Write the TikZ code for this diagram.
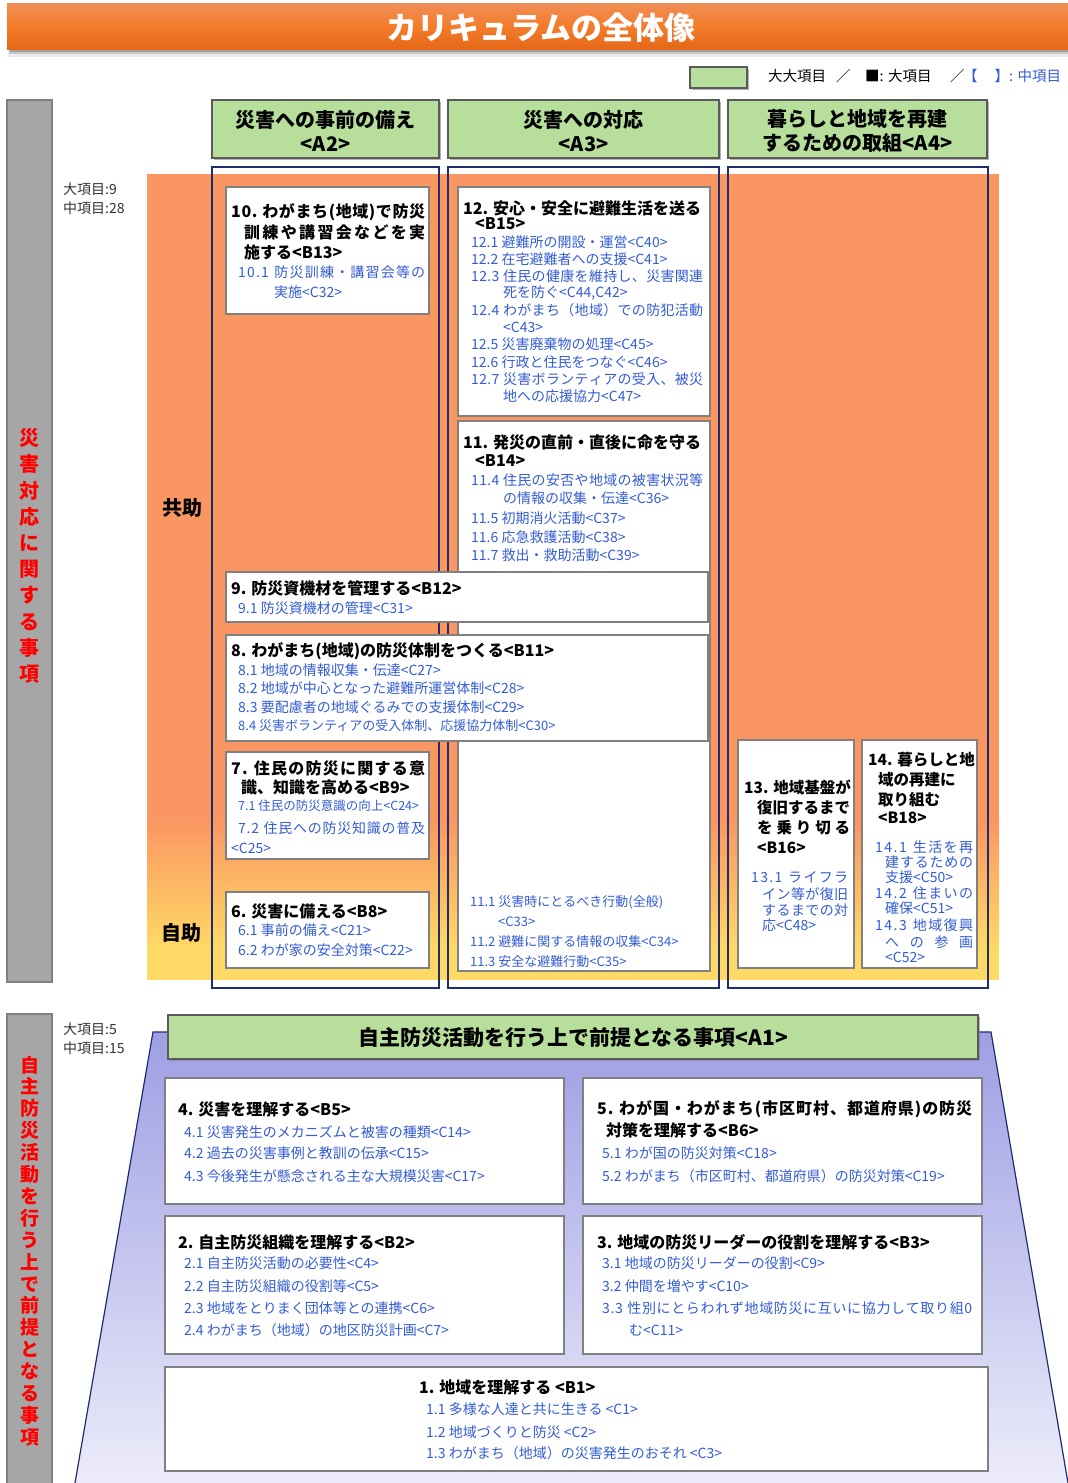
\documentclass[tikz,border=0pt]{standalone}
\usepackage{fontspec}
\setmainfont{Noto Sans CJK JP}
\usetikzlibrary{shadows}
\hbadness=10000
\definecolor{orangebg}{RGB}{250,150,98}
\definecolor{yellowbg}{RGB}{255,217,102}
\definecolor{itemblue}{RGB}{51,92,214}
\definecolor{navy}{RGB}{31,45,110}
\definecolor{boxgray}{RGB}{128,128,128}
\definecolor{hdrgreen}{RGB}{183,222,155}
\definecolor{hdrborder}{RGB}{90,90,90}
\definecolor{barGray}{RGB}{166,166,166}
\definecolor{titleTop}{RGB}{241,142,88}
\definecolor{titleMid}{RGB}{244,124,42}
\definecolor{titleBot}{RGB}{228,104,24}
\definecolor{purpTop}{RGB}{158,158,228}
\definecolor{purpBot}{RGB}{236,236,250}
\def\sprA#1{#1\sprB}
\def\sprB#1{\ifx#1\relax\else\hfil#1\expandafter\sprB\fi}
\newcommand\jus[2]{\makebox[#1pt][s]{\sprA#2\relax}}
\tikzset{
 ttl/.style={anchor=west,inner sep=0pt,font=\bfseries\fontsize{16}{18}\selectfont},
 ttls/.style={anchor=west,inner sep=0pt,font=\bfseries\fontsize{15.5}{18}\selectfont},
 itm/.style={anchor=west,inner sep=0pt,text=itemblue,font=\fontsize{14}{16}\selectfont},
 itmn/.style={itm,font=\fontsize{13}{15}\selectfont},
 wbox/.style={draw=boxgray,fill=white,line width=1.5pt},
 col/.style={draw=navy,line width=1.2pt},
 hdr/.style={draw=hdrborder,line width=2.5pt,fill=hdrgreen,drop shadow={shadow xshift=2pt,shadow yshift=-2pt,opacity=0.6}},
 hdrtxt/.style={align=center,inner sep=0pt,font=\bfseries\fontsize{20}{24}\selectfont},
 lbl/.style={anchor=west,inner sep=0pt,text=black!80,font=\fontsize{14}{16}\selectfont},
 legtxt/.style={anchor=west,inner sep=0pt,font=\fontsize{14.5}{16}\selectfont},
 vred/.style={align=center,inner sep=0pt,text=red,font=\bfseries\fontsize{20}{26.2}\selectfont},
 vredb/.style={align=center,inner sep=0pt,text=red,font=\bfseries\fontsize{19}{21.9}\selectfont},
 bar/.style={fill=barGray,draw=black!50,line width=1.5pt},
 big/.style={inner sep=0pt,font=\bfseries\fontsize{20}{22}\selectfont},
}
\begin{document}
\begin{tikzpicture}[x=1pt,y=-1pt]
\useasboundingbox (0,0) rectangle (1068,1483);
% title bar
\fill[black,opacity=0.08] (8,5) rectangle (1068,57);
\fill[black,opacity=0.15] (9,6) rectangle (1068,54);
\fill[black,opacity=0.2] (10,7) rectangle (1068,52);
\shade[top color=titleTop,bottom color=titleBot,middle color=titleMid] (7,3) rectangle (1068,49);
\node[inner sep=0pt,text=white,font=\bfseries\fontsize{31}{34}\selectfont] (title) at (541,28) {カリキュラムの全体像};
% legend
\draw[hdr,line width=2pt] (690,67) rectangle (747,88);
\node[legtxt] (leg1) at (768,76) {大大項目};
\node[legtxt] (leg2) at (836,76) {／};
\node[legtxt] (leg3) at (865,76) {■: 大項目};
\node[legtxt] (leg4) at (950,76) {／};
\node[legtxt,text=itemblue] (leg5) at (963,76) {【\hspace{17pt}】: 中項目};
% gray side bars
\draw[bar] (7,100) rectangle (52,982);
\node[vred] (vtop) at (29.5,556) {災\\害\\対\\応\\に\\関\\す\\る\\事\\項};
\draw[bar] (7,1014) rectangle (52,1490);
\node[vredb] (vbot) at (29.5,1251) {自\\主\\防\\災\\活\\動\\を\\行\\う\\上\\で\\前\\提\\と\\な\\る\\事\\項};
% counts
\node[lbl] (c1a) at (63,189) {大項目:9};
\node[lbl] (c1b) at (63,208) {中項目:28};
\node[lbl] (c2a) at (63,1029) {大項目:5};
\node[lbl] (c2b) at (63,1048) {中項目:15};
% orange background
\fill[orangebg] (147,174) rectangle (999,822);
\shade[top color=orangebg,bottom color=yellowbg] (147,820) rectangle (999,948);
\fill[yellowbg] (147,946) rectangle (999,980);
% columns
\draw[col] (212,167) rectangle (439,988);
\draw[col] (448,167) rectangle (719,988);
\draw[col] (728,167) rectangle (988,988);
% headers
\draw[hdr] (212,100) rectangle (439,158);
\node[hdrtxt] (hA2) at (325.5,131) {災害への事前の備え\\<A2>};
\draw[hdr] (448,100) rectangle (719,158);
\node[hdrtxt] (hA3) at (583.5,131) {災害への対応\\<A3>};
\draw[hdr] (728,100) rectangle (987,158);
\node[hdrtxt] (hA4) at (857.5,131) {暮らしと地域を再建\\するための取組<A4>};
% box 10
\draw[wbox] (226,187) rectangle (429,314);
\node[ttl] (b10a) at (231,212) {\jus{194}{10.\ わがまち(地域)で防災}};
\node[ttl] (b10b) at (244,232) {\jus{181}{訓練や講習会などを実}};
\node[ttl] (b10c) at (244,252) {施する<B13>};
\node[itm] (b10d) at (238,272) {\jus{187}{10.1\ 防災訓練・講習会等の}};
\node[itm] (b10e) at (274,292) {実施<C32>};
% box 12
\draw[wbox] (458,187) rectangle (710,416);
\node[ttl] (b12a) at (463,208) {12. 安心・安全に避難生活を送る};
\node[ttl] (b12b) at (475,224) {<B15>};
\node[itm] (b12c) at (471,242) {12.1 避難所の開設・運営<C40>};
\node[itm] (b12d) at (471,259) {12.2 在宅避難者への支援<C41>};
\node[itm] (b12e) at (471,276) {\jus{232}{12.3\ 住民の健康を維持し、災害関連}};
\node[itm] (b12f) at (503,293) {死を防ぐ<C44,C42>};
\node[itm] (b12g) at (471,310) {\jus{232}{12.4\ わがまち（地域）での防犯活動}};
\node[itm] (b12h) at (503,327) {<C43>};
\node[itm] (b12i) at (471,344) {12.5 災害廃棄物の処理<C45>};
\node[itm] (b12j) at (471,362) {12.6 行政と住民をつなぐ<C46>};
\node[itm] (b12k) at (471,379) {\jus{232}{12.7\ 災害ボランティアの受入、被災}};
\node[itm] (b12l) at (503,396) {地への応援協力<C47>};
% box 11
\draw[wbox] (458,421) rectangle (710,971);
\node[ttl] (b11a) at (463,442) {11. 発災の直前・直後に命を守る};
\node[ttl] (b11b) at (475,461) {<B14>};
\node[itm] (b11c) at (471,480) {\jus{232}{11.4\ 住民の安否や地域の被害状況等}};
\node[itm] (b11d) at (503,498) {の情報の収集・伝達<C36>};
\node[itm] (b11e) at (471,518) {11.5 初期消火活動<C37>};
\node[itm] (b11f) at (471,537) {11.6 応急救護活動<C38>};
\node[itm] (b11g) at (471,555) {11.7 救出・救助活動<C39>};
\node[itmn] (b11h) at (470,902) {11.1 災害時にとるべき行動(全般)};
\node[itmn] (b11i) at (498,922) {<C33>};
\node[itmn] (b11j) at (470,942) {11.2 避難に関する情報の収集<C34>};
\node[itmn] (b11k) at (470,962) {11.3 安全な避難行動<C35>};
% box 9
\draw[wbox] (226,572) rectangle (708,622);
\node[ttl] (b9a) at (231,588) {9. 防災資機材を管理する<B12>};
\node[itm] (b9b) at (238,608) {9.1 防災資機材の管理<C31>};
% box 8
\draw[wbox] (226,635) rectangle (708,741);
\node[ttl] (b8a) at (231,651) {8. わがまち(地域)の防災体制をつくる<B11>};
\node[itm] (b8b) at (238,670) {8.1 地域の情報収集・伝達<C27>};
\node[itm] (b8c) at (238,688) {8.2 地域が中心となった避難所運営体制<C28>};
\node[itm] (b8d) at (238,707) {8.3 要配慮者の地域ぐるみでの支援体制<C29>};
\node[itmn] (b8e) at (238,726) {8.4 災害ボランティアの受入体制、応援協力体制<C30>};
% box 7
\draw[wbox] (226,752) rectangle (429,859);
\node[ttl] (b7a) at (231,768) {\jus{194}{7.\ 住民の防災に関する意}};
\node[ttl] (b7b) at (241,787) {識、知識を高める<B9>};
\node[itm,font=\fontsize{12.5}{14}\selectfont] (b7c) at (238,806) {7.1 住民の防災意識の向上<C24>};
\node[itm] (b7d) at (238,828) {\jus{187}{7.2\ 住民への防災知識の普及}};
\node[itm] (b7e) at (231,848) {<C25>};
% box 6
\draw[wbox] (226,892) rectangle (429,968);
\node[ttl] (b6a) at (231,911) {6. 災害に備える<B8>};
\node[itm] (b6b) at (238,930) {6.1 事前の備え<C21>};
\node[itm] (b6c) at (238,950) {6.2 わが家の安全対策<C22>};
% box 13
\draw[wbox] (738,740) rectangle (854,968);
\node[ttls] (b13a) at (744,787) {13. 地域基盤が};
\node[ttls] (b13b) at (757,808) {復旧するまで};
\node[ttls] (b13c) at (757,828) {\jus{93}{を乗り切る}};
\node[ttls] (b13d) at (757,848) {<B16>};
\node[itm] (b13e) at (751,877) {\jus{97}{13.1\ ライフラ}};
\node[itm] (b13f) at (762,894) {\jus{86}{イン等が復旧}};
\node[itm] (b13g) at (762,910) {\jus{86}{するまでの対}};
\node[itm] (b13h) at (762,925) {応<C48>};
% box 14
\draw[wbox] (862,740) rectangle (977,968);
\node[ttls] (b14a) at (868,760) {14. 暮らしと地};
\node[ttls] (b14b) at (878,780) {域の再建に};
\node[ttls] (b14c) at (878,800) {取り組む};
\node[ttls] (b14d) at (878,818) {<B18>};
\node[itm] (b14e) at (875,847) {\jus{98}{14.1\ 生活を再}};
\node[itm] (b14f) at (885,862) {\jus{88}{建するための}};
\node[itm] (b14g) at (885,877) {支援<C50>};
\node[itm] (b14h) at (875,893) {\jus{98}{14.2\ 住まいの}};
\node[itm] (b14i) at (885,908) {確保<C51>};
\node[itm] (b14j) at (875,925) {\jus{98}{14.3\ 地域復興}};
\node[itm] (b14k) at (885,942) {\jus{88}{への参画}};
\node[itm] (b14l) at (885,957) {<C52>};
% labels
\node[big] (kyojo) at (182,508) {共助};
\node[big] (jijo) at (181,933) {自助};
% bottom trapezoid
\shade[top color=purpTop,bottom color=purpBot] (153,1032) -- (991,1032) -- (1068,1483) -- (75,1483) -- cycle;
\draw[navy,line width=1.2pt] (75,1483) -- (153,1032) -- (991,1032) -- (1068,1483);
\draw[hdr] (168,1015) rectangle (978,1059);
\node[inner sep=0pt,font=\bfseries\fontsize{21}{24}\selectfont] (hA1) at (573,1038) {自主防災活動を行う上で前提となる事項<A1>};
% box 4
\draw[wbox] (165,1078) rectangle (564,1204);
\node[ttl] (b4a) at (178,1109) {4. 災害を理解する<B5>};
\node[itm] (b4b) at (184,1132) {4.1 災害発生のメカニズムと被害の種類<C14>};
\node[itm] (b4c) at (184,1153) {4.2 過去の災害事例と教訓の伝承<C15>};
\node[itm] (b4d) at (184,1176) {4.3 今後発生が懸念される主な大規模災害<C17>};
% box 5
\draw[wbox] (583,1078) rectangle (982,1204);
\node[ttl] (b5a) at (597,1109) {\jus{375}{5.\ わが国・わがまち(市区町村、都道府県)の防災}};
\node[ttl] (b5b) at (606,1130) {対策を理解する<B6>};
\node[itm] (b5c) at (602,1153) {5.1 わが国の防災対策<C18>};
\node[itm] (b5d) at (602,1176) {5.2 わがまち（市区町村、都道府県）の防災対策<C19>};
% box 2
\draw[wbox] (165,1216) rectangle (564,1354);
\node[ttl] (b2a) at (178,1242) {2. 自主防災組織を理解する<B2>};
\node[itm] (b2b) at (184,1263) {2.1 自主防災活動の必要性<C4>};
\node[itm] (b2c) at (184,1286) {2.2 自主防災組織の役割等<C5>};
\node[itm] (b2d) at (184,1308) {2.3 地域をとりまく団体等との連携<C6>};
\node[itm] (b2e) at (184,1330) {2.4 わがまち（地域）の地区防災計画<C7>};
% box 3
\draw[wbox] (583,1216) rectangle (982,1354);
\node[ttl] (b3a) at (597,1242) {3. 地域の防災リーダーの役割を理解する<B3>};
\node[itm] (b3b) at (602,1263) {3.1 地域の防災リーダーの役割<C9>};
\node[itm] (b3c) at (602,1286) {3.2 仲間を増やす<C10>};
\node[itm] (b3d) at (602,1308) {\jus{370}{3.3\ 性別にとらわれず地域防災に互いに協力して取り組0}};
\node[itm] (b3e) at (629,1330) {む<C11>};
% box 1
\draw[wbox] (165,1367) rectangle (988,1471);
\node[ttl] (b1a) at (419,1387) {1. 地域を理解する <B1>};
\node[itm] (b1b) at (426,1409) {1.1 多様な人達と共に生きる <C1>};
\node[itm] (b1c) at (426,1432) {1.2 地域づくりと防災 <C2>};
\node[itm] (b1d) at (426,1453) {1.3 わがまち（地域）の災害発生のおそれ <C3>};
\end{tikzpicture}
\end{document}
